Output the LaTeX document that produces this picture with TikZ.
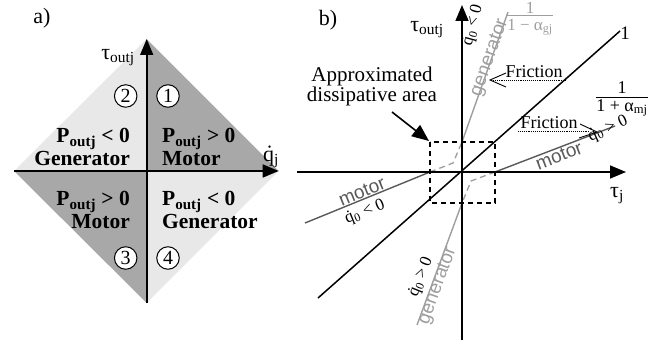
\documentclass[tikz,border=0pt]{standalone}
\usepackage{fontspec}
\setmainfont{Liberation Serif}
\setsansfont{Liberation Sans}
\usetikzlibrary{arrows.meta}
\definecolor{qdark}{gray}{0.66}
\definecolor{qlight}{gray}{0.91}
\definecolor{gencol}{gray}{0.62}
\definecolor{motcol}{gray}{0.35}
\newcommand{\fs}[1]{\fontsize{#1}{#1}\selectfont}
\tikzset{
  axis/.style={line width=1.6pt,-{Triangle[length=16pt,width=13pt]}},
  quadtxt/.style={font=\fs{21.5}\bfseries,inner sep=0pt},
  numcirc/.style={circle,draw,line width=1pt,fill=white,minimum size=22.5pt,inner sep=0pt,font=\fs{20}},
  lbl/.style={inner sep=0pt},
  genline/.style={gencol,line width=1.4pt},
  motline/.style={motcol,line width=1.4pt},
  gentxt/.style={gencol,font=\sffamily\fs{19}},
  mottxt/.style={motcol,font=\sffamily\fs{19},inner sep=0pt},
  qtxt/.style={font=\fs{17},inner sep=0pt},
  frictxt/.style={font=\fs{18},inner sep=0pt},
  fricline/.style={densely dotted,line width=0.9pt},
  openhead/.style={line width=0.9pt},
}
\begin{document}
\begin{tikzpicture}[x=1pt,y=-1pt]
\useasboundingbox (0,0) rectangle (660,347);
% ---------------- panel a
\node[lbl,font=\fs{22}] (alab) at (42,18) {a)};
\coordinate (ac) at (146.7,171);
\coordinate (at) at (146.7,39);
\coordinate (ab) at (146.7,303);
\coordinate (al) at (14,171);
\coordinate (ar) at (278.7,171);
\fill[qdark] (ac) -- (at) -- (ar) -- cycle;
\fill[qlight] (ac) -- (at) -- (al) -- cycle;
\fill[qdark] (ac) -- (al) -- (ab) -- cycle;
\fill[qlight] (ac) -- (ab) -- (ar) -- cycle;
\draw[axis] (al) -- (ar);
\draw[axis] (ab) -- (at);
\node[lbl,font=\fs{22}] (tauouta) at (118,58) {τ\textsubscript{outj}};
\node[lbl,font=\fs{22}] (qja) at (271,157) {\.{q}\textsubscript{j}};
\node[numcirc] (n2) at (125.7,96) {2};
\node[numcirc] (n1) at (168,96) {1};
\node[numcirc] (n3) at (125.7,258) {3};
\node[numcirc] (n4) at (168,258) {4};
\node[quadtxt,anchor=east,align=right] (q2) at (130,147) {P\textsubscript{outj} < 0\\[1pt]Generator};
\node[quadtxt,anchor=west,align=left] (q1) at (162,147) {P\textsubscript{outj} > 0\\[1pt]Motor};
\node[quadtxt,anchor=east,align=right] (q3) at (130,210) {P\textsubscript{outj} > 0\\[1pt]Motor};
\node[quadtxt,anchor=west,align=left] (q4) at (162,210) {P\textsubscript{outj} < 0\\[1pt]Generator};
% ---------------- panel b
\node[lbl,font=\fs{22}] (blab) at (328,20) {b)};
\coordinate (o) at (462,172);
\coordinate (hl) at (297,172);
\coordinate (hr) at (626,172);
\coordinate (vb) at (462,340);
\coordinate (vt) at (462,5);
% dissipative box
\coordinate (bx1) at (430,142);
\coordinate (bx2) at (495,203);
\draw[line width=1.3pt,dash pattern=on 5pt off 4pt] (bx1) rectangle (bx2);
% unity line
\coordinate (u1) at (318,298);
\coordinate (u2) at (620,31);
\draw[line width=1.5pt] (u1) -- (u2);
% motor lines
\coordinate (mr0) at (495,172);
\coordinate (mr1) at (615,126);
\coordinate (ml0) at (430,172);
\coordinate (ml1) at (305,223);
\draw[motline] (mr0) -- (mr1);
\draw[motline] (ml0) -- (ml1);
% generator lines
\coordinate (gu0) at (462,142);
\coordinate (gu1) at (508,12);
\coordinate (gl0) at (462,203);
\coordinate (gl1) at (417,325);
\draw[genline] (gu0) -- (gu1);
\draw[genline] (gl0) -- (gl1);
% dashed gray transitions
\coordinate (dk1) at (453,163);
\coordinate (dk2) at (471,181);
\draw[gencol,line width=1.3pt,dash pattern=on 6pt off 4pt] (ml0) -- (dk1) -- (gu0);
\draw[gencol,line width=1.3pt,dash pattern=on 6pt off 4pt] (mr0) -- (dk2) -- (gl0);
% axes
\draw[axis] (hl) -- (hr);
\draw[axis] (vb) -- (vt);
\node[lbl,font=\fs{22}] (taub) at (427,30) {τ\textsubscript{outj}};
\node[lbl,font=\fs{22}] (tauj) at (617,196) {τ\textsubscript{j}};
\node[lbl,font=\fs{19}] (one) at (625,33) {1};
% fractions
\node[lbl,gencol,font=\fs{17}] (fgn) at (530,7.5) {1};
\node[lbl,gencol,font=\fs{17}] (fgd) at (530,27) {1 − α\textsubscript{gj}};
\draw[gencol,line width=0.8pt] (fgd.west |- 0,15) -- (fgd.east |- 0,15);
\node[lbl,font=\fs{18}] (fmn) at (622,88) {1};
\node[lbl,font=\fs{18}] (fmd) at (622,108) {1 + α\textsubscript{mj}};
\draw[line width=0.8pt] (fmd.west |- 0,97) -- (fmd.east |- 0,97);
% approximated dissipative area
\node[lbl,font=\fs{21},align=center] (appr) at (372,86) {Approximated\\[-1pt]dissipative area};
\coordinate (apt) at (429,141);
\draw[line width=1.6pt,-{Triangle[length=17pt,width=14pt]}] (392,112) -- (apt);
% friction labels
\node[frictxt] (fr1) at (534,72) {Friction};
\coordinate (fr1a) at (566,80);
\coordinate (fr1t) at (490,80);
\draw[fricline] (fr1a) -- (fr1t);
\draw[openhead] (506,73) -- (fr1t) -- (506,87);
\node[frictxt] (fr2) at (549,123) {Friction};
\coordinate (fr2a) at (518,131);
\coordinate (fr2t) at (597,132);
\draw[fricline] (fr2a) -- (590,131);
\draw[openhead] (580,124) -- (fr2t) -- (579,138);
% texts along lines
\node[gentxt,inner sep=0pt,rotate=70.5] (gtu) at (490,58) {generator};
\node[gentxt,inner sep=0pt,rotate=70] (gtl) at (438,286) {generator};
\node[mottxt,rotate=21] (mtr) at (559,156) {motor};
\node[mottxt,rotate=22] (mtl) at (362,192) {motor};
\node[qtxt,rotate=75] (qu) at (473,25) {\.{q}\textsubscript{0} < 0};
\node[qtxt,rotate=68] (ql) at (421,277) {\.{q}\textsubscript{0} > 0};
\node[qtxt,rotate=24] (qr) at (608,129) {\.{q}\textsubscript{0} > 0};
\node[qtxt,rotate=22] (qlf) at (365,212) {\.{q}\textsubscript{0} < 0};
\end{tikzpicture}
\end{document}
